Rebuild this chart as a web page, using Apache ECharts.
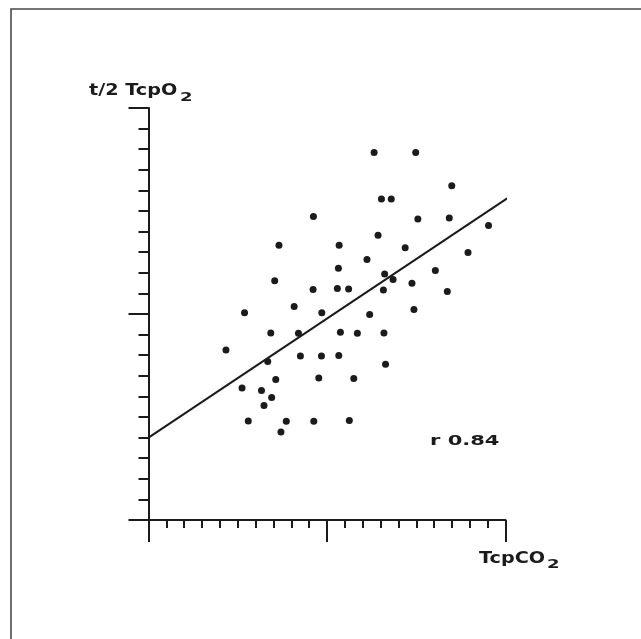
<!DOCTYPE html>
<html>
<head>
<meta charset="utf-8">
<title>t/2 TcpO2 vs TcpCO2</title>
<script src="https://cdn.jsdelivr.net/npm/echarts@6/dist/echarts.min.js"></script>
<style>
  html, body { margin: 0; padding: 0; background: #ffffff; }
  #chart { width: 641px; height: 639px; }
</style>
</head>
<body>
<div id="chart"></div>
<script>
// Transcutaneous CO2 (x) against half-time of TcpO2 (y), arbitrary units
const tcpco2 = [
  12.64, 14.97, 16.99, 13.05, 13.60, 9.24, 15.09, 16.85, 19.05, 12.86,
  7.31, 10.68, 14.38, 17.90, 12.24, 10.64, 16.07, 13.23, 7.07, 13.70,
  14.76, 9.22, 10.58, 11.21, 13.16, 16.74, 8.16, 5.38, 9.71, 12.39,
  14.87, 6.85, 8.40, 10.75, 11.70, 13.19, 4.34, 6.68, 8.51, 9.69,
  10.66, 13.28, 5.24, 6.33, 6.90, 7.13, 9.54, 11.50, 6.47, 5.59,
  7.72, 9.26, 11.25, 7.42
];
const halfTimeO2 = [
  17.84, 17.84, 16.23, 15.58, 15.58, 14.73, 14.61, 14.66, 14.30, 13.82,
  13.34, 13.34, 13.21, 12.98, 12.65, 12.22, 12.11, 11.94, 11.61, 11.68,
  11.49, 11.19, 11.24, 11.21, 11.16, 11.09, 10.36, 10.06, 10.06, 9.98,
  10.22, 9.08, 9.06, 9.11, 9.06, 9.08, 8.25, 7.69, 7.96, 7.96,
  7.98, 7.56, 6.41, 6.29, 5.95, 6.82, 6.89, 6.87, 5.56, 4.81,
  4.79, 4.79, 4.83, 4.27
];
// regression line end points
const fitX = [0, 20.3];
const fitY = [4, 15.73];
const correlation = '0.84';

const ink = '#1b1b1b';
const points = tcpco2.map((x, i) => [x, halfTimeO2[i]]);
const fitPoints = fitX.map((x, i) => [x, fitY[i]]);

const chart = echarts.init(document.getElementById('chart'), null, { renderer: 'canvas' });

const hidden = { show: false };
const tickStyle = { color: ink, width: 2 };

chart.setOption({
  animation: false,
  backgroundColor: '#ffffff',
  grid: { left: 148.5, top: 108, right: 135.5, bottom: 119, containLabel: false },
  xAxis: [
    {
      type: 'value', min: 0, max: 20, interval: 1, position: 'bottom',
      axisLine: { show: true, onZero: false, lineStyle: { color: ink, width: 2 } },
      axisTick: { show: true, inside: false, length: 8, lineStyle: tickStyle },
      axisLabel: hidden, splitLine: hidden
    },
    {
      type: 'value', min: 0, max: 20, interval: 10, position: 'bottom', offset: 0,
      axisLine: { show: false },
      axisTick: { show: true, inside: false, length: 22, lineStyle: tickStyle },
      axisLabel: hidden, splitLine: hidden
    }
  ],
  yAxis: [
    {
      type: 'value', min: 0, max: 20, interval: 1, position: 'left',
      axisLine: { show: true, onZero: false, lineStyle: { color: ink, width: 2 } },
      axisTick: { show: true, inside: false, length: 10, lineStyle: tickStyle },
      axisLabel: hidden, splitLine: hidden
    },
    {
      type: 'value', min: 0, max: 20, interval: 10, position: 'left', offset: 0,
      axisLine: { show: false },
      axisTick: { show: true, inside: false, length: 20, lineStyle: tickStyle },
      axisLabel: hidden, splitLine: hidden
    }
  ],
  series: [
    {
      type: 'scatter', xAxisIndex: 0, yAxisIndex: 0,
      data: points, symbol: 'circle', symbolSize: 7,
      itemStyle: { color: ink, opacity: 1 }
    },
    {
      type: 'line', xAxisIndex: 0, yAxisIndex: 0,
      data: fitPoints, symbol: 'none', clip: false,
      lineStyle: { color: ink, width: 2 }
    }
  ],
  graphic: [
    {
      type: 'polyline', silent: true,
      shape: { points: [[11, 639], [11, 9], [641, 9]] },
      style: { stroke: '#4a4a4a', lineWidth: 1.6, fill: null }
    },
    {
      type: 'text', x: 89, y: 91, scaleX: 1.2,
      style: { text: 't/2 TcpO', fill: ink, font: 'bold 16px "DejaVu Sans"', align: 'left', verticalAlign: 'middle' }
    },
    {
      type: 'text', x: 180, y: 98, scaleX: 1.5,
      style: { text: '2', fill: ink, font: 'bold 12px "DejaVu Sans"', align: 'left', verticalAlign: 'middle' }
    },
    {
      type: 'text', x: 479, y: 558.5, scaleX: 1.2,
      style: { text: 'TcpCO', fill: ink, font: 'bold 16px "DejaVu Sans"', align: 'left', verticalAlign: 'middle' }
    },
    {
      type: 'text', x: 547, y: 565, scaleX: 1.5,
      style: { text: '2', fill: ink, font: 'bold 12px "DejaVu Sans"', align: 'left', verticalAlign: 'middle' }
    },
    {
      type: 'text', x: 430, y: 441, scaleX: 1.5,
      style: { text: 'r ' + correlation, fill: ink, font: 'bold 14px "DejaVu Sans"', align: 'left', verticalAlign: 'middle' }
    }
  ]
});
</script>
</body>
</html>
